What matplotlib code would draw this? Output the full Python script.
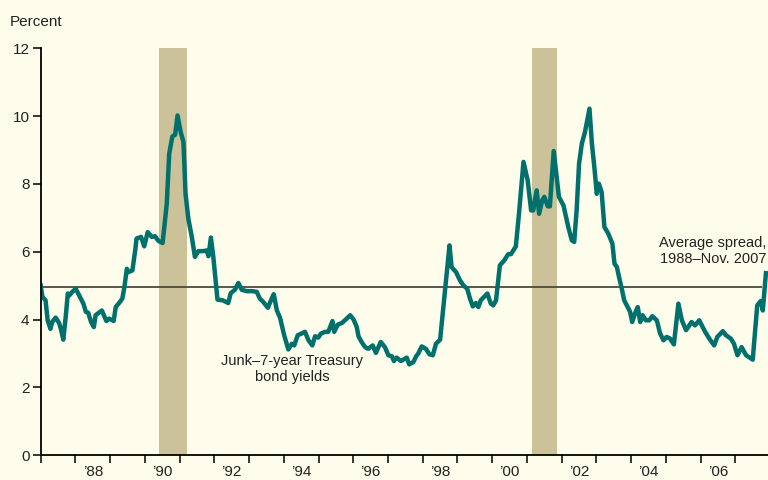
import matplotlib.pyplot as plt

# decimal years and spread (percent)
years = [1987.00, 1987.05, 1987.14, 1987.20, 1987.28, 1987.33, 1987.43, 1987.53, 1987.58, 1987.65,
         1987.72, 1987.78, 1987.83, 1987.91, 1988.01, 1988.13, 1988.23, 1988.30, 1988.37, 1988.45,
         1988.53, 1988.58, 1988.76, 1988.89, 1988.97, 1989.10, 1989.16, 1989.28, 1989.35, 1989.41,
         1989.48, 1989.52, 1989.64, 1989.72, 1989.76, 1989.89, 1989.98, 1990.08, 1990.20, 1990.29,
         1990.39, 1990.51, 1990.63, 1990.70, 1990.79, 1990.87, 1990.94, 1991.03, 1991.11, 1991.17,
         1991.25, 1991.35, 1991.44, 1991.54, 1991.68, 1991.78, 1991.83, 1991.90, 1991.97, 1992.09,
         1992.24, 1992.40, 1992.47, 1992.59, 1992.69, 1992.79, 1992.93, 1993.08, 1993.22, 1993.31,
         1993.41, 1993.54, 1993.63, 1993.71, 1993.80, 1993.89, 1994.01, 1994.13, 1994.23, 1994.30,
         1994.40, 1994.51, 1994.61, 1994.71, 1994.82, 1994.90, 1994.99, 1995.07, 1995.19, 1995.28,
         1995.40, 1995.45, 1995.55, 1995.67, 1995.81, 1995.91, 1996.01, 1996.10, 1996.15, 1996.24,
         1996.34, 1996.43, 1996.56, 1996.65, 1996.79, 1996.91, 1997.01, 1997.11, 1997.17, 1997.25,
         1997.37, 1997.44, 1997.54, 1997.61, 1997.73, 1997.81, 1997.87, 1997.97, 1998.09, 1998.19,
         1998.29, 1998.38, 1998.50, 1998.57, 1998.67, 1998.77, 1998.83, 1998.96, 1999.07, 1999.17,
         1999.28, 1999.36, 1999.44, 1999.53, 1999.60, 1999.67, 1999.86, 1999.96, 2000.03, 2000.11,
         2000.22, 2000.35, 2000.46, 2000.54, 2000.68, 2000.77, 2000.90, 2001.02, 2001.12, 2001.18,
         2001.28, 2001.35, 2001.44, 2001.50, 2001.60, 2001.66, 2001.77, 2001.92, 2002.05, 2002.19,
         2002.29, 2002.36, 2002.43, 2002.50, 2002.58, 2002.67, 2002.80, 2002.87, 2002.94, 2003.01,
         2003.07, 2003.15, 2003.23, 2003.34, 2003.46, 2003.52, 2003.59, 2003.65, 2003.73, 2003.80,
         2003.90, 2003.97, 2004.03, 2004.11, 2004.19, 2004.26, 2004.33, 2004.42, 2004.52, 2004.61,
         2004.74, 2004.83, 2004.93, 2005.02, 2005.12, 2005.23, 2005.36, 2005.46, 2005.58, 2005.74,
         2005.84, 2005.96, 2006.13, 2006.27, 2006.39, 2006.48, 2006.64, 2006.73, 2006.87, 2006.96,
         2007.06, 2007.18, 2007.31, 2007.50, 2007.63, 2007.73, 2007.79, 2007.88]
spread = [5.01, 4.67, 4.57, 3.98, 3.73, 3.93, 4.06, 3.90, 3.73, 3.41,
          4.08, 4.77, 4.72, 4.82, 4.91, 4.67, 4.47, 4.23, 4.20, 3.93,
          3.78, 4.13, 4.27, 3.96, 4.03, 3.96, 4.37, 4.52, 4.62, 4.96,
          5.50, 5.40, 5.45, 6.04, 6.39, 6.44, 6.16, 6.58, 6.44, 6.46,
          6.32, 6.26, 7.42, 8.89, 9.40, 9.45, 10.02, 9.53, 9.24, 7.71,
          6.98, 6.44, 5.85, 6.02, 6.02, 6.04, 5.87, 6.42, 5.85, 4.59,
          4.57, 4.49, 4.78, 4.88, 5.08, 4.88, 4.84, 4.84, 4.82, 4.62,
          4.52, 4.35, 4.57, 4.75, 4.27, 4.06, 3.54, 3.12, 3.29, 3.24,
          3.54, 3.59, 3.64, 3.39, 3.24, 3.51, 3.47, 3.59, 3.64, 3.64,
          3.96, 3.64, 3.85, 3.90, 4.03, 4.13, 4.00, 3.78, 3.51, 3.34,
          3.19, 3.14, 3.24, 3.02, 3.34, 3.19, 2.95, 2.92, 2.78, 2.88,
          2.78, 2.82, 2.88, 2.68, 2.75, 2.92, 3.00, 3.21, 3.14, 2.98,
          2.95, 3.29, 3.41, 4.13, 5.16, 6.19, 5.55, 5.40, 5.16, 5.01,
          4.91, 4.62, 4.39, 4.49, 4.37, 4.57, 4.77, 4.47, 4.42, 4.57,
          5.60, 5.75, 5.93, 5.93, 6.16, 7.12, 8.65, 8.11, 7.22, 7.22,
          7.81, 7.12, 7.52, 7.62, 7.34, 7.34, 8.97, 7.62, 7.37, 6.73,
          6.34, 6.29, 7.22, 8.60, 9.19, 9.53, 10.22, 9.19, 8.50, 7.71,
          8.01, 7.76, 6.73, 6.54, 6.24, 5.65, 5.55, 5.26, 4.91, 4.57,
          4.37, 4.23, 3.93, 4.18, 4.37, 3.93, 4.13, 3.98, 3.98, 4.10,
          3.98, 3.60, 3.39, 3.49, 3.44, 3.27, 4.47, 3.98, 3.69, 3.93,
          3.83, 3.98, 3.64, 3.41, 3.24, 3.49, 3.66, 3.54, 3.44, 3.29,
          2.95, 3.19, 2.95, 2.82, 4.42, 4.55, 4.27, 5.37]

recessions = [(1990.42, 1991.20), (2001.15, 2001.87)]
average_spread = 4.96

year_ticks = list(range(1987, 2008))
label_years = [1988, 1990, 1992, 1994, 1996, 1998, 2000, 2002, 2004, 2006]
year_labels = ["\u2019%02d" % (y % 100) for y in label_years]

plt.rcParams['font.family'] = ['Liberation Sans', 'DejaVu Sans']

bg = "#FEFCEA"
fig = plt.figure(figsize=(7.68, 4.8), dpi=100, facecolor=bg)
ax = fig.add_axes([40.7 / 768, 24.7 / 480, (768 - 40.7) / 768, 407 / 480])
ax.set_facecolor(bg)

for start, end in recessions:
    ax.axvspan(start, end, color="#CBC29A", lw=0, zorder=1)

ax.hlines(average_spread, 1987, 2007.78, color="#4A4A42", lw=1.3, zorder=2)
ax.plot(years, spread, color="#00706C", lw=3.2, solid_joinstyle="round", zorder=3)

ax.set_xlim(1987, 2007.94)
ax.set_ylim(0, 12)
ax.set_yticks([0, 2, 4, 6, 8, 10, 12])
ax.set_xticks(year_ticks)
ax.set_xticklabels([])
ax.set_xticks([y + 0.5 for y in label_years], minor=True)
ax.set_xticklabels(year_labels, minor=True)
ax.tick_params(axis="x", which="major", length=6, width=1.1, direction="out")
ax.tick_params(axis="x", which="minor", length=0, pad=7, labelsize=11, colors="#222222")
ax.tick_params(axis="y", length=6, width=1.1, pad=2, labelsize=11, colors="#222222")
ax.tick_params(axis="both", which="both", color="black")

for side in ["top", "right"]:
    ax.spines[side].set_visible(False)
for side in ["left", "bottom"]:
    ax.spines[side].set_linewidth(1.3)
    ax.spines[side].set_color("black")
    ax.spines[side].set_zorder(4)

ax.text(1994.24, 2.55, "Junk\u20137-year Treasury\nbond yields", ha="center", va="center",
        fontsize=10.5, color="#222222", linespacing=1.15)
ax.text(2007.9, 6.02, "Average spread,\n1988\u2013Nov. 2007", ha="right", va="center",
        multialignment="center", fontsize=10.5, color="#222222", linespacing=1.15)

fig.text(10 / 768, 1 - 22 / 480, "Percent", ha="left", va="center", fontsize=11, color="#222222")

fig.savefig("out.png", dpi=100, facecolor=bg)
